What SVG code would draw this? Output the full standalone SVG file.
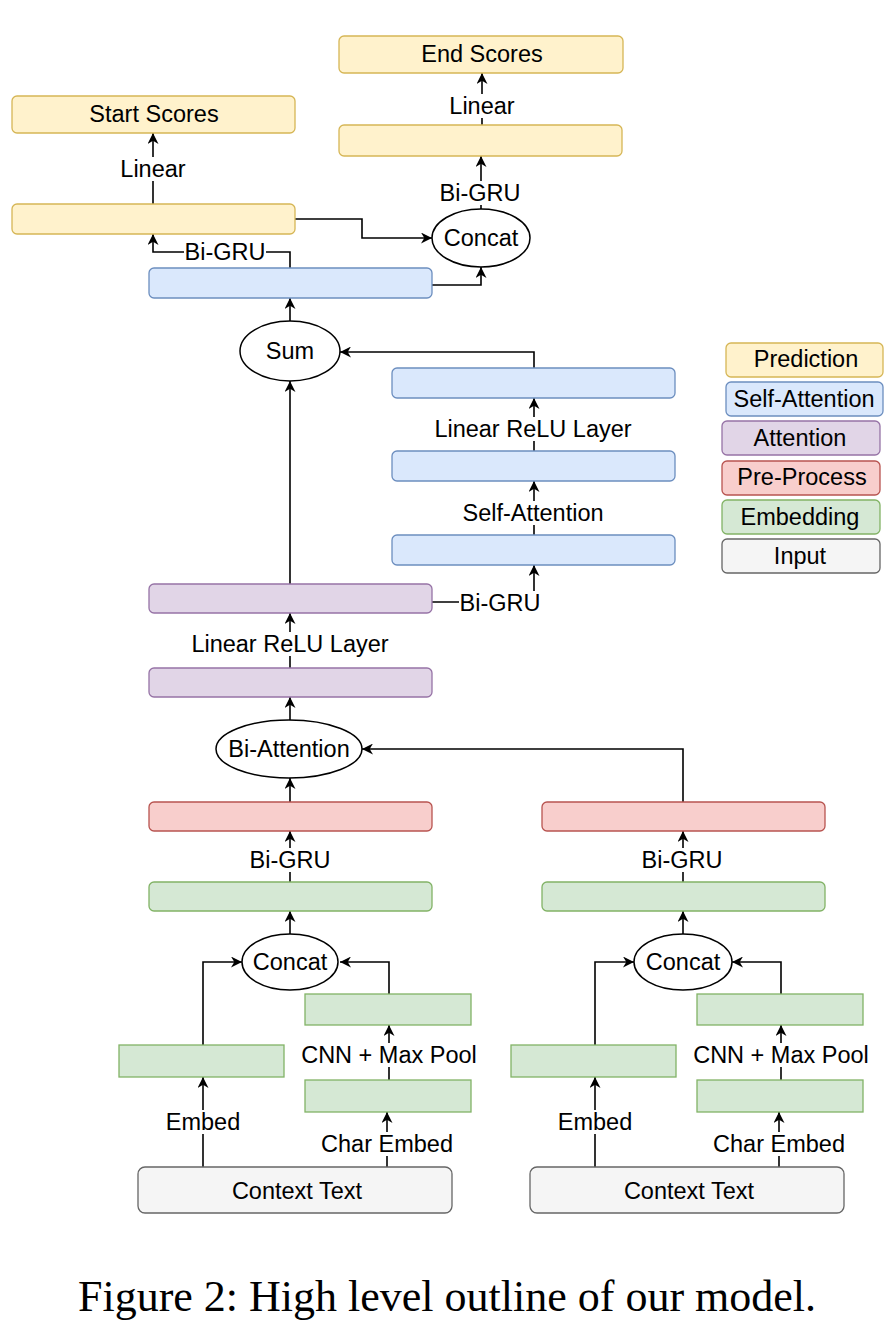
<svg xmlns="http://www.w3.org/2000/svg" width="894" height="1331" viewBox="0 0 894 1331">
<defs>
<marker id="arr" viewBox="0 0 10 10" refX="10" refY="5" markerWidth="12" markerHeight="11" markerUnits="userSpaceOnUse" orient="auto">
<path d="M0,0 L10,5 L0,10 L3,5 Z" fill="#000"/>
</marker>
</defs>
<style>
text{font-family:"Liberation Sans",Arial,Helvetica,sans-serif;font-size:23.5px;fill:#000;text-anchor:middle}
.cap{font-family:"Liberation Serif","Times New Roman",serif;font-size:44px}
.y{fill:#fff2cc;stroke:#d6b656;stroke-width:1.3}
.b{fill:#dae8fc;stroke:#6c8ebf;stroke-width:1.3}
.p{fill:#e1d5e7;stroke:#9673a6;stroke-width:1.3}
.r{fill:#f8cecc;stroke:#b85450;stroke-width:1.3}
.g{fill:#d5e8d4;stroke:#82b366;stroke-width:1.3}
.i{fill:#f5f5f5;stroke:#666666;stroke-width:1.3}
.e{fill:#fff;stroke:#000;stroke-width:1.5}
.c path{fill:none;stroke:#000;stroke-width:1.6}
.c path.a{marker-end:url(#arr)}
.lb{fill:#fff}
</style>
<rect width="894" height="1331" fill="#fff"/>

<g class="c" id="connectors">
<path class="a" d="M153,204 V133"/>
<path class="a" d="M482,125 V73"/>
<path class="a" d="M481,209 V156"/>
<path class="a" d="M295,219 H362 V238 H432"/>
<path class="a" d="M290,268 V252 H153 V234"/>
<path class="a" d="M432,285 H481 V267"/>
<path class="a" d="M290,322 V298"/>
<path class="a" d="M290,584 V381"/>
<path class="a" d="M534,368 V352 H340"/>
<path class="a" d="M534,451 V398"/>
<path class="a" d="M534,535 V481"/>
<path class="a" d="M432,602 H534 V565"/>
<path class="a" d="M290,668 V613"/>
<path class="a" d="M290,720 V697"/>
<path class="a" d="M290,802 V778"/>
<path class="a" d="M683,802 V749 H362"/>
<path class="a" d="M290,882 V831"/>
<path class="a" d="M683,882 V831"/>
<path class="a" d="M290,934 V911"/>
<path class="a" d="M203,1045 V962 H242"/>
<path class="a" d="M389,994 V962 H340"/>
<path class="a" d="M389,1080 V1025"/>
<path class="a" d="M203,1167 V1077"/>
<path class="a" d="M387,1167 V1112"/>
<path class="a" d="M683,934 V911"/>
<path class="a" d="M595,1045 V962 H634"/>
<path class="a" d="M781,994 V962 H732"/>
<path class="a" d="M781,1080 V1025"/>
<path class="a" d="M595,1167 V1077"/>
<path class="a" d="M779,1167 V1112"/>
</g>

<g id="connector-labels">
<rect class="lb" x="120" y="157" width="66" height="24"/><text x="153" y="177">Linear</text>
<rect class="lb" x="449" y="94" width="66" height="24"/><text x="482" y="114">Linear</text>
<rect class="lb" x="439" y="181" width="82" height="24"/><text x="480" y="201">Bi-GRU</text>
<rect class="lb" x="184" y="240" width="82" height="24"/><text x="225" y="260">Bi-GRU</text>
<rect class="lb" x="434" y="417" width="199" height="24"/><text x="533" y="437">Linear ReLU Layer</text>
<rect class="lb" x="462" y="501" width="143" height="24"/><text x="533" y="521">Self-Attention</text>
<rect class="lb" x="459" y="591" width="82" height="24"/><text x="500" y="611">Bi-GRU</text>
<rect class="lb" x="191" y="632" width="199" height="24"/><text x="290" y="652">Linear ReLU Layer</text>
<rect class="lb" x="249" y="848" width="82" height="24"/><text x="290" y="868">Bi-GRU</text>
<rect class="lb" x="641" y="848" width="82" height="24"/><text x="682" y="868">Bi-GRU</text>
<rect class="lb" x="300" y="1043" width="178" height="24"/><text x="389" y="1063">CNN + Max Pool</text>
<rect class="lb" x="165" y="1110" width="76" height="24"/><text x="203" y="1130">Embed</text>
<rect class="lb" x="320" y="1132" width="134" height="24"/><text x="387" y="1152">Char Embed</text>
<rect class="lb" x="692" y="1043" width="178" height="24"/><text x="781" y="1063">CNN + Max Pool</text>
<rect class="lb" x="557" y="1110" width="76" height="24"/><text x="595" y="1130">Embed</text>
<rect class="lb" x="712" y="1132" width="134" height="24"/><text x="779" y="1152">Char Embed</text>
</g>

<g id="end-scores"><rect class="y" x="339" y="36" width="284" height="37" rx="5"/><text x="482" y="62">End Scores</text></g>
<g id="end-hidden"><rect class="y" x="339" y="125" width="283" height="31" rx="5"/></g>
<g id="start-scores"><rect class="y" x="12" y="96" width="283" height="37" rx="5"/><text x="154" y="122">Start Scores</text></g>
<g id="start-hidden"><rect class="y" x="12" y="204" width="283" height="30" rx="5"/></g>
<g id="concat-top"><ellipse class="e" cx="481" cy="238" rx="49" ry="29"/><text x="481" y="246">Concat</text></g>
<g id="self-att-out"><rect class="b" x="149" y="268" width="283" height="30" rx="5"/></g>
<g id="sum"><ellipse class="e" cx="290" cy="351" rx="50" ry="30"/><text x="290" y="359">Sum</text></g>
<g id="sa-1"><rect class="b" x="392" y="368" width="283" height="30" rx="5"/></g>
<g id="sa-2"><rect class="b" x="392" y="451" width="283" height="30" rx="5"/></g>
<g id="sa-3"><rect class="b" x="392" y="535" width="283" height="30" rx="5"/></g>
<g id="att-1"><rect class="p" x="149" y="584" width="283" height="29" rx="5"/></g>
<g id="att-2"><rect class="p" x="149" y="668" width="283" height="29" rx="5"/></g>
<g id="bi-attention"><ellipse class="e" cx="289" cy="749" rx="73" ry="29"/><text x="289" y="757">Bi-Attention</text></g>
<g id="pre-left"><rect class="r" x="149" y="802" width="283" height="29" rx="5"/></g>
<g id="pre-right"><rect class="r" x="542" y="802" width="283" height="29" rx="5"/></g>
<g id="emb-left"><rect class="g" x="149" y="882" width="283" height="29" rx="5"/></g>
<g id="emb-right"><rect class="g" x="542" y="882" width="283" height="29" rx="5"/></g>
<g id="concat-left"><ellipse class="e" cx="290" cy="962" rx="48" ry="28"/><text x="290" y="970">Concat</text></g>
<g id="concat-right"><ellipse class="e" cx="683" cy="962" rx="49" ry="28"/><text x="683" y="970">Concat</text></g>
<g id="word-emb-left"><rect class="g" x="119" y="1045" width="165" height="32"/></g>
<g id="char-cnn-left"><rect class="g" x="305" y="994" width="166" height="31"/></g>
<g id="char-emb-left"><rect class="g" x="305" y="1080" width="166" height="32"/></g>
<g id="word-emb-right"><rect class="g" x="511" y="1045" width="165" height="32"/></g>
<g id="char-cnn-right"><rect class="g" x="697" y="994" width="166" height="31"/></g>
<g id="char-emb-right"><rect class="g" x="697" y="1080" width="166" height="32"/></g>
<g id="context-left"><rect class="i" x="138" y="1167" width="314" height="46" rx="7"/><text x="297" y="1199">Context Text</text></g>
<g id="context-right"><rect class="i" x="530" y="1167" width="314" height="46" rx="7"/><text x="689" y="1199">Context Text</text></g>

<g id="legend">
<g id="lg-prediction"><rect class="y" x="726" y="343" width="157" height="34" rx="5"/><text x="806" y="367">Prediction</text></g>
<g id="lg-self-attention"><rect class="b" x="726" y="382" width="157" height="34" rx="5"/><text x="804" y="407">Self-Attention</text></g>
<g id="lg-attention"><rect class="p" x="722" y="421" width="158" height="34" rx="5"/><text x="800" y="446">Attention</text></g>
<g id="lg-preprocess"><rect class="r" x="722" y="461" width="158" height="34" rx="5"/><text x="802" y="485">Pre-Process</text></g>
<g id="lg-embedding"><rect class="g" x="722" y="500" width="158" height="34" rx="5"/><text x="800" y="525">Embedding</text></g>
<g id="lg-input"><rect class="i" x="722" y="539" width="158" height="34" rx="5"/><text x="800" y="564">Input</text></g>
</g>

<text class="cap" x="447" y="1311">Figure 2: High level outline of our model.</text>
</svg>
